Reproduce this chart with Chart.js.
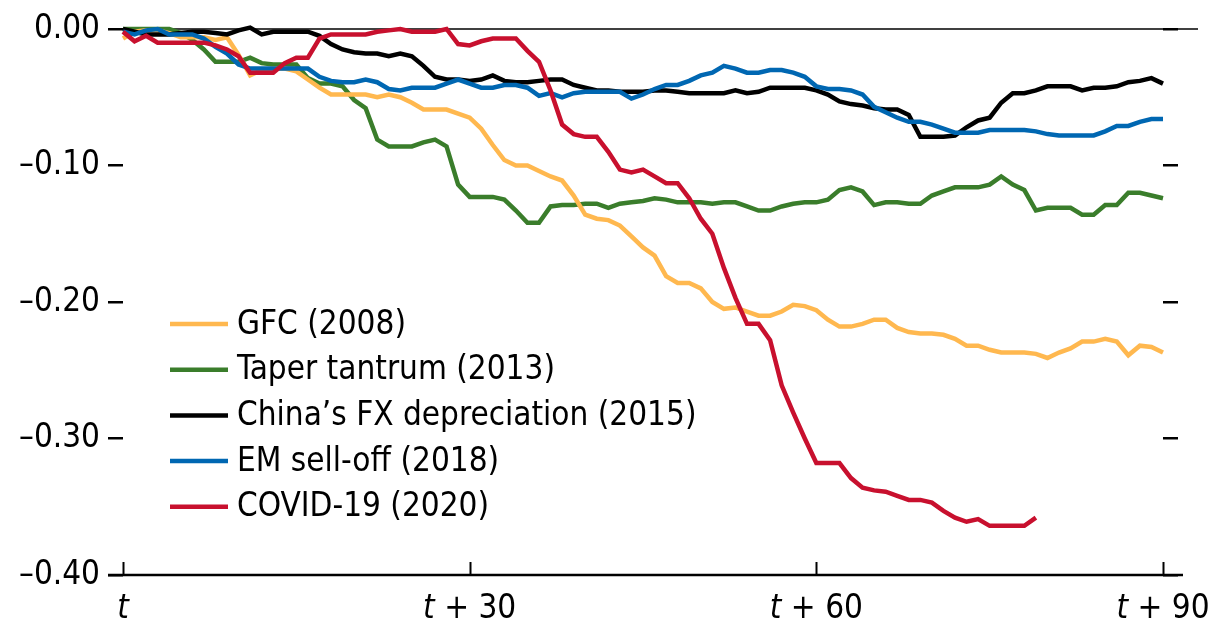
<!DOCTYPE html>
<html>
<head>
<meta charset="utf-8">
<script src="https://cdn.jsdelivr.net/npm/chart.js@4.4.1/dist/chart.umd.min.js"></script>
<style>
  html, body { margin: 0; padding: 0; background: #fff; }
  #wrap { width: 1214px; height: 625px; }
</style>
</head>
<body>
<div id="wrap"><canvas id="chart" width="1214" height="625"></canvas></div>
<script>
// trading days after the start of each episode
const days = Array.from({ length: 91 }, (_, i) => i);

const gfc = [
  -0.007, -0.002, -0.001, -0.001, -0.003, -0.006, -0.006, -0.006, -0.008, -0.006,
  -0.019, -0.034, -0.030, -0.029, -0.029, -0.031, -0.037, -0.043, -0.048, -0.048,
  -0.048, -0.048, -0.050, -0.048, -0.050, -0.054, -0.059, -0.059, -0.059, -0.062,
  -0.065, -0.073, -0.085, -0.096, -0.100, -0.100, -0.104, -0.108, -0.111, -0.122,
  -0.136, -0.139, -0.140, -0.144, -0.152, -0.160, -0.166, -0.181, -0.186, -0.186,
  -0.190, -0.200, -0.205, -0.204, -0.207, -0.210, -0.210, -0.207, -0.202, -0.203,
  -0.206, -0.213, -0.218, -0.218, -0.216, -0.213, -0.213, -0.219, -0.222, -0.223,
  -0.223, -0.224, -0.227, -0.232, -0.232, -0.235, -0.237, -0.237, -0.237, -0.238,
  -0.241, -0.237, -0.234, -0.229, -0.229, -0.227, -0.229, -0.239, -0.232, -0.233, -0.237
];

const taper = [
  0, 0, 0, 0, 0, -0.003, -0.008, -0.015, -0.024, -0.024,
  -0.024, -0.021, -0.025, -0.026, -0.026, -0.026, -0.036, -0.040, -0.040, -0.042,
  -0.052, -0.058, -0.081, -0.086, -0.086, -0.086, -0.083, -0.081, -0.086, -0.114,
  -0.123, -0.123, -0.123, -0.125, -0.133, -0.142, -0.142, -0.130, -0.129, -0.129,
  -0.128, -0.128, -0.131, -0.128, -0.127, -0.126, -0.124, -0.125, -0.127, -0.127,
  -0.127, -0.128, -0.127, -0.127, -0.130, -0.133, -0.133, -0.130, -0.128, -0.127,
  -0.127, -0.125, -0.118, -0.116, -0.119, -0.129, -0.127, -0.127, -0.128, -0.128,
  -0.122, -0.119, -0.116, -0.116, -0.116, -0.114, -0.108, -0.114, -0.118, -0.133,
  -0.131, -0.131, -0.131, -0.136, -0.136, -0.129, -0.129, -0.120, -0.120, -0.122, -0.124
];

const china = [
  0, -0.002, -0.004, -0.004, -0.004, -0.003, -0.002, -0.002, -0.003, -0.004,
  -0.001, 0.001, -0.004, -0.002, -0.002, -0.002, -0.002, -0.005, -0.011, -0.015,
  -0.017, -0.018, -0.018, -0.020, -0.018, -0.020, -0.027, -0.035, -0.037, -0.037,
  -0.038, -0.037, -0.034, -0.038, -0.039, -0.039, -0.038, -0.037, -0.037, -0.041,
  -0.043, -0.045, -0.045, -0.046, -0.046, -0.046, -0.045, -0.045, -0.046, -0.047,
  -0.047, -0.047, -0.047, -0.045, -0.047, -0.046, -0.043, -0.043, -0.043, -0.043,
  -0.045, -0.048, -0.053, -0.055, -0.056, -0.058, -0.059, -0.059, -0.063, -0.079,
  -0.079, -0.079, -0.078, -0.072, -0.067, -0.065, -0.054, -0.047, -0.047, -0.045,
  -0.042, -0.042, -0.042, -0.045, -0.043, -0.043, -0.042, -0.039, -0.038, -0.036, -0.040
];

const emSelloff = [
  -0.002, -0.004, -0.001, 0.000, -0.004, -0.004, -0.004, -0.007, -0.013, -0.018,
  -0.026, -0.029, -0.029, -0.029, -0.029, -0.029, -0.029, -0.035, -0.038, -0.039,
  -0.039, -0.037, -0.039, -0.044, -0.045, -0.043, -0.043, -0.043, -0.040, -0.037,
  -0.040, -0.043, -0.043, -0.041, -0.041, -0.043, -0.049, -0.047, -0.050, -0.047,
  -0.046, -0.046, -0.046, -0.046, -0.051, -0.048, -0.044, -0.041, -0.041, -0.038,
  -0.034, -0.032, -0.027, -0.029, -0.032, -0.032, -0.030, -0.030, -0.032, -0.035,
  -0.042, -0.044, -0.044, -0.045, -0.048, -0.057, -0.061, -0.065, -0.068, -0.068,
  -0.070, -0.073, -0.076, -0.076, -0.076, -0.074, -0.074, -0.074, -0.074, -0.075,
  -0.077, -0.078, -0.078, -0.078, -0.078, -0.075, -0.071, -0.071, -0.068, -0.066, -0.066
];

const covid = [
  -0.002, -0.009, -0.005, -0.010, -0.010, -0.010, -0.010, -0.010, -0.012, -0.015,
  -0.020, -0.032, -0.032, -0.032, -0.025, -0.021, -0.021, -0.007, -0.004, -0.004,
  -0.004, -0.004, -0.002, -0.001, 0.000, -0.002, -0.002, -0.002, 0.000, -0.011,
  -0.012, -0.009, -0.007, -0.007, -0.007, -0.016, -0.024, -0.045, -0.070, -0.077,
  -0.079, -0.079, -0.090, -0.103, -0.105, -0.103, -0.108, -0.113, -0.113, -0.124,
  -0.139, -0.150, -0.175, -0.197, -0.216, -0.216, -0.228, -0.261, -0.281, -0.300,
  -0.318, -0.318, -0.318, -0.329, -0.336, -0.338, -0.339, -0.342, -0.345, -0.345,
  -0.347, -0.353, -0.358, -0.361, -0.359, -0.364, -0.364, -0.364, -0.364, -0.358
];

const seriesNames = ["GFC (2008)", "Taper tantrum (2013)", "China\u2019s FX depreciation (2015)", "EM sell-off (2018)", "COVID-19 (2020)"];
const seriesValues = [gfc, taper, china, emSelloff, covid];
const seriesColors = ["#FFB84F", "#3A7D2B", "#000000", "#0067B2", "#C8102E"];
const seriesOrder = [4, 5, 3, 2, 1]; // lower number is drawn on top

const yTickValues = [0, -0.1, -0.2, -0.3, -0.4];
const yTickLabels = ["0.00", "\u20130.10", "\u20130.20", "\u20130.30", "\u20130.40"];
const xTickValues = [0, 30, 60, 90];
const xTickLabels = ["", " + 30", " + 60", " + 90"]; // each follows an italic t

const FONT = "'DejaVu Sans Condensed', sans-serif";
const FONT_SIZE = 33;

// zero line, bottom axis with inward ticks, x labels and the legend
const framePlugin = {
    id: "frame",
    beforeDatasetsDraw(chart) {
        const ctx = chart.ctx;
        const area = chart.chartArea;
        const y0 = chart.scales.y.getPixelForValue(0);
        ctx.save();
        ctx.strokeStyle = "#000";
        ctx.lineWidth = 1.5;
        ctx.beginPath();
        ctx.moveTo(area.left - 15, y0);
        ctx.lineTo(area.right + 35, y0);
        ctx.stroke();
        ctx.restore();
    },
    afterDraw(chart) {
        const ctx = chart.ctx;
        const area = chart.chartArea;
        const xScale = chart.scales.x;
        ctx.save();
        ctx.strokeStyle = "#000";
        ctx.lineWidth = 2.5;
        ctx.beginPath();
        ctx.moveTo(area.left - 15, area.bottom);
        ctx.lineTo(area.right + 20, area.bottom);
        ctx.stroke();

        ctx.lineWidth = 2;
        xTickValues.forEach(v => {
            const px = Math.round(xScale.getPixelForValue(v)) + 0.5;
            ctx.beginPath();
            ctx.moveTo(px, area.bottom);
            ctx.lineTo(px, area.bottom - 13);
            ctx.stroke();
        });

        // x labels: italic t + plain rest, centred on the tick
        ctx.fillStyle = "#000";
        ctx.textBaseline = "middle";
        ctx.textAlign = "left";
        const italic = `italic ${FONT_SIZE}px ${FONT}`;
        const plain = `${FONT_SIZE}px ${FONT}`;
        xTickValues.forEach((v, i) => {
            const px = xScale.getPixelForValue(v);
            ctx.font = italic;
            const wt = ctx.measureText("t").width;
            ctx.font = plain;
            const wr = ctx.measureText(xTickLabels[i]).width;
            const start = px - (wt + wr) / 2;
            const ty = area.bottom + 34;
            ctx.font = italic;
            ctx.fillText("t", start, ty);
            ctx.font = plain;
            ctx.fillText(xTickLabels[i], start + wt, ty);
        });

        // legend
        ctx.font = plain;
        chart.data.datasets.forEach((ds, i) => {
            const ly = 324 + i * 45.7;
            ctx.strokeStyle = ds.borderColor;
            ctx.lineWidth = 4.5;
            ctx.beginPath();
            ctx.moveTo(170, ly);
            ctx.lineTo(228, ly);
            ctx.stroke();
            ctx.fillStyle = "#000";
            ctx.fillText(ds.label, 237, ly + 1);
        });
        ctx.restore();
    }
};

const datasets = seriesNames.map((name, i) => ({
    label: name,
    data: seriesValues[i].map((v, d) => ({ x: days[d], y: v })),
    borderColor: seriesColors[i],
    borderWidth: 4.5,
    pointRadius: 0,
    tension: 0,
    fill: false,
    clip: false,
    order: seriesOrder[i]
}));

const yAxisCommon = {
    type: "linear",
    min: -0.4,
    max: 0,
    afterBuildTicks: scale => { scale.ticks = yTickValues.map(v => ({ value: v })); },
    grid: { drawOnChartArea: false, drawTicks: true, tickLength: 15, color: "#000", lineWidth: 2.5 },
    border: { display: false }
};

new Chart(document.getElementById("chart"), {
    type: "line",
    data: { datasets: datasets },
    options: {
        responsive: false,
        animation: false,
        devicePixelRatio: 1,
        layout: { padding: { top: 29, left: 0, right: 0, bottom: 0 } },
        plugins: { legend: { display: false }, tooltip: { enabled: false } },
        scales: {
            x: {
                type: "linear",
                min: 0,
                max: 90,
                ticks: { display: false },
                grid: { display: false },
                border: { display: false },
                afterFit: scale => { scale.height = 50; }
            },
            y: Object.assign({}, yAxisCommon, {
                position: "left",
                ticks: {
                    callback: (v, i) => yTickLabels[i],
                    color: "#000",
                    padding: 8,
                    font: { family: FONT, size: FONT_SIZE }
                },
                afterFit: scale => { scale.width = 123; }
            }),
            y2: Object.assign({}, yAxisCommon, {
                position: "right",
                ticks: { display: false },
                afterFit: scale => { scale.width = 51; }
            })
        }
    },
    plugins: [framePlugin]
});
</script>
</body>
</html>
